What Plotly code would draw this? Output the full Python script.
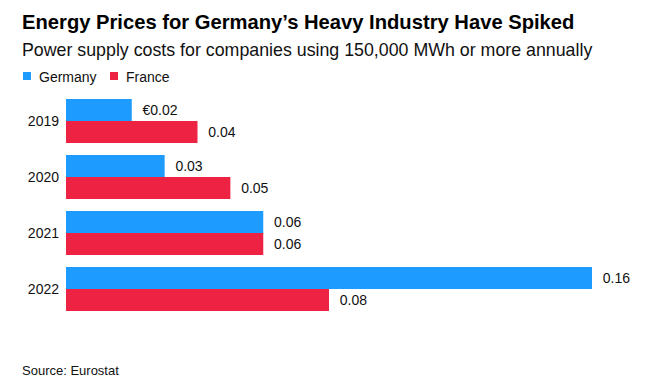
import plotly.graph_objects as go

years = ["2019", "2020", "2021", "2022"]
germany = [0.02, 0.03, 0.06, 0.16]
france = [0.04, 0.05, 0.06, 0.08]
germany_labels = ["€0.02", "0.03", "0.06", "0.16"]
france_labels = ["0.04", "0.05", "0.06", "0.08"]
series_names = ["Germany", "France"]

BLUE = "#1E9BFF"
RED = "#EE2242"
FONT = "Liberation Sans, Arial, sans-serif"
PAD = "\u00a0\u00a0"
W, H = 651, 390
L, R, T, B = 66, 11, 93, 73
PW, PH = W - L - R, H - T - B

fig = go.Figure()
for name, vals, labels, color in [(series_names[0], germany, germany_labels, BLUE),
                                   (series_names[1], france, france_labels, RED)]:
    fig.add_trace(go.Bar(
        y=years, x=vals, name=name, orientation="h",
        marker=dict(color=color, line=dict(width=0)),
        text=[PAD + t for t in labels], textposition="outside",
        textfont=dict(size=14, color="#111", family=FONT), cliponaxis=False,
        hoverinfo="skip", showlegend=False,
    ))

def py(px):
    return (H - B - px) / PH

def pxx(px):
    return (px - L) / PW

# manual legend (swatch + label)
shapes = []
legend_ann = []
for name, color, x0 in [(series_names[0], BLUE, 23), (series_names[1], RED, 110)]:
    shapes.append(dict(type="rect", xref="paper", yref="paper",
                       x0=pxx(x0), x1=pxx(x0 + 8), y0=py(72), y1=py(80),
                       fillcolor=color, line=dict(width=0)))
    legend_ann.append(dict(text=name, xref="paper", yref="paper", xanchor="left",
                           yanchor="middle", x=pxx(x0 + 14), y=py(76.5), showarrow=False,
                           font=dict(size=14, family=FONT, color="#111")))

fig.update_layout(
    width=W, height=H,
    margin=dict(l=L, r=R, t=T, b=B, autoexpand=False),
    paper_bgcolor="white", plot_bgcolor="white",
    font=dict(family=FONT, size=13, color="#111"),
    barmode="group", bargap=0.214, bargroupgap=0,
    showlegend=False,
    xaxis=dict(range=[0, 0.1746], visible=False, fixedrange=True),
    yaxis=dict(autorange="reversed", showgrid=False, showline=False, zeroline=False,
               ticks="", ticklabelstandoff=6,
               tickfont=dict(size=14, family=FONT, color="#111"), fixedrange=True),
    shapes=shapes,
    annotations=[
        dict(text="<b>Energy Prices for Germany’s Heavy Industry Have Spiked</b>",
             xref="paper", yref="paper", xanchor="left", yanchor="middle",
             x=pxx(20), y=py(22), showarrow=False,
             font=dict(size=20.2, family=FONT, color="#000")),
        dict(text="Power supply costs for companies using 150,000 MWh or more annually",
             xref="paper", yref="paper", xanchor="left", yanchor="middle",
             x=pxx(20), y=py(50), showarrow=False,
             font=dict(size=17.8, family=FONT, color="#111")),
        dict(text="Source: Eurostat",
             xref="paper", yref="paper", xanchor="left", yanchor="middle",
             x=pxx(20), y=py(370), showarrow=False,
             font=dict(size=13, family=FONT, color="#111")),
    ] + legend_ann,
)
fig.write_html("out.html", config={"displayModeBar": False},
               post_script="document.body.style.margin='0';")
